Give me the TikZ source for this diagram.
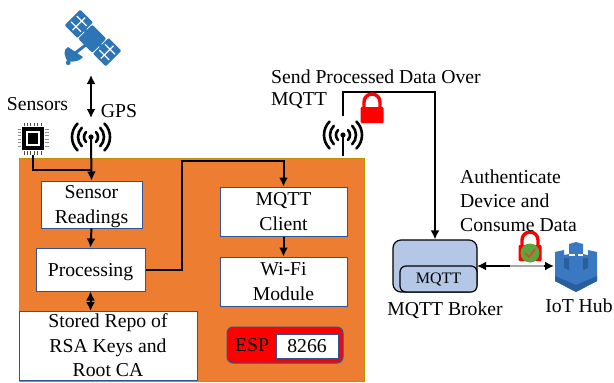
\documentclass[tikz,border=0pt]{standalone}
\usepackage{fontspec}
\setmainfont{Liberation Serif}
\usetikzlibrary{arrows.meta}
\definecolor{espfill}{HTML}{ED7D31}
\definecolor{espedge}{HTML}{BF9000}
\definecolor{boxedge}{HTML}{2F5597}
\definecolor{brokerfill}{HTML}{B4C7E7}
\definecolor{satblue}{HTML}{2E75B6}
\definecolor{hubblue}{HTML}{3B78C2}
\definecolor{hubdark}{HTML}{2A5F9E}
\definecolor{lockgreen}{HTML}{5BA63C}
\tikzset{
	>={Latex[length=9pt,width=9pt]},
	txt/.style={font=\fontsize{19.7}{24}\selectfont, align=left, inner sep=0pt},
	blockbox/.style={draw=boxedge, line width=1pt, fill=white, inner sep=0pt, align=center, text depth=0pt, font=\fontsize{19.7}{24.5}\selectfont},
	link/.style={draw=black, line width=2pt},
	pics/antennaicon/.style={code={
		\fill (0,0) circle (2.6);
		\foreach \r in {7,13,19} {
			\draw[line width=2.6pt, line cap=round] (45:\r) arc (45:-45:\r);
			\draw[line width=2.6pt, line cap=round] (135:\r) arc (135:225:\r);
		}
	}},
	pics/lockicon/.style={code={
		\draw[red, line width=3.4pt] (-8,0) -- (-8,-6) arc (180:360:8) -- (8,0);
		\fill[red, rounded corners=1pt] (-11.5,-1) rectangle (11.5,15);
	}}
}
\begin{document}
\begin{tikzpicture}[x=1pt, y=-1pt]
	\useasboundingbox (0,0) rectangle (614,383);

	% ESP board
	\filldraw[draw=espedge, fill=espfill, line width=1pt] (19,158) rectangle (364,381);

	% boxes on the board
	\node[blockbox, minimum width=101pt, minimum height=47pt] (readings) at (91.5,204.5) {Sensor\\Readings};
	\node[blockbox, minimum width=109pt, minimum height=43pt] (processing) at (90.5,269.5) {Processing};
	\node[blockbox, minimum width=178pt, minimum height=69pt] (repo) at (108,345.5) {Stored Repo of\\RSA Keys and\\Root CA};
	\node[blockbox, minimum width=127pt, minimum height=49pt] (client) at (283.5,211.5) {MQTT\\Client};
	\node[blockbox, minimum width=127pt, minimum height=49pt] (wifi) at (283.5,281.5) {Wi-Fi\\Module};
	\node[draw=boxedge, line width=1pt, fill=red, rounded corners=6pt, minimum width=116pt, minimum height=36pt] (esp) at (285,345) {};
	\node[blockbox, minimum width=62pt, minimum height=24pt] (chipno) at (307,346) {8266};
	\node[txt] (espname) at (252,345) {ESP};

	% satellite
	\begin{scope}[shift={(93,38)}, rotate=-45]
		\fill[satblue, rounded corners=1pt] (-29,-11) rectangle (-11,11);
		\fill[satblue, rounded corners=1pt] (11,-11) rectangle (29,11);
		\fill[satblue, rounded corners=2pt] (-10,-9) rectangle (10,11);
		\fill[satblue] (-12,-1.5) rectangle (12,1.5);
		\foreach \s in {-1,1} {
			\draw[white, line width=1.2pt] (\s*20,-9) -- (\s*20,9);
			\draw[white, line width=1.2pt] (\s*27,-4) -- (\s*13,-4);
			\draw[white, line width=1.2pt] (\s*27,4) -- (\s*13,4);
		}
		\fill[satblue] (-11.3,24) -- (6.4,20.5) .. controls (7,30) and (-2,33) .. (0,35) .. controls (-8,33) and (-13,30) .. cycle;
		\fill[satblue] (0,35) circle (2.4);
		\draw[satblue, line width=3pt] (-2,24) -- (0,8);
	\end{scope}

	% sensor chip
	\fill[black] (22,127) rectangle (44,150);
	\fill[white] (26,131) rectangle (40,146);
	\fill[black] (28,133) rectangle (38,144);
	\foreach \p in {0,...,5} {
		\draw[black!70, line width=1pt] (24+\p*3.4,123) -- (24+\p*3.4,126);
		\draw[black!70, line width=1pt] (24+\p*3.4,151) -- (24+\p*3.4,155);
		\draw[black!45, line width=1pt] (18,129+\p*3.4) -- (21,129+\p*3.4);
		\draw[black!45, line width=1pt] (45,129+\p*3.4) -- (49,129+\p*3.4);
	}

	% antennas
	\pic at (91,137) {antennaicon};
	\pic at (343,135) {antennaicon};
	\coordinate (gpsant) at (91,137);
	\coordinate (wifiant) at (343,135);
	\coordinate (satbottom) at (91,75);
	\coordinate (gpsarrow) at (91,118);
	\coordinate (chipfoot) at (33,155);
	\coordinate (wifitop) at (343,116);
	\coordinate (wifibase) at (343,156);
	\coordinate (repotop) at (90.5,311);
	\coordinate (brokerport) at (477,266);
	\coordinate (hubleft) at (554,266);

	% connectors
	\draw[link, <->] (satbottom) -- (gpsarrow);
	\draw[link, ->] (gpsant) -- (readings.north);
	\draw[link] (chipfoot) |- (91,170);
	\draw[link, ->] (readings.south) -- (processing.north);
	\draw[link, <->] (processing.south) -- (repotop);
	\draw[link, ->] (processing.east) -- (182,269.5) |- (283.5,161) -- (client.north);
	\draw[link, ->] (client.south) -- (wifi.north);
	\draw[line width=2pt] (wifiant) -- (wifibase);

	% broker
	\node[draw, line width=1.2pt, fill=brokerfill, rounded corners=8pt, minimum width=84pt, minimum height=52pt] (broker) at (435,266) {};
	\node[draw, line width=1.2pt, fill=brokerfill, rounded corners=6pt, minimum width=77pt, minimum height=26pt, inner sep=0pt, font=\fontsize{16}{18}\selectfont] (brokerin) at (438.5,279) {MQTT};
	\draw[link, ->] (wifitop) |- (435,92) -- (broker.north);

	% iot hub
	\fill[hubblue] (555,252) -- (564,250) -- (564,255) -- (569,254) -- (569,244) -- (576,242) -- (583,244) -- (583,254) -- (588,255) -- (588,250) -- (597,252) -- (597,281) -- (576,292) -- (555,281) -- cycle;
	\fill[hubdark] (555,276) -- (576,285) -- (597,276) -- (597,281) -- (576,292) -- (555,281) -- cycle;
	\fill[hubdark] (564,258) -- (569,258) -- (569,270) -- (564,268) -- cycle;
	\fill[hubdark] (583,258) -- (588,258) -- (588,268) -- (583,270) -- cycle;
	\fill[white] (569,254) rectangle (575,255.5);
	\fill[white] (578,254) rectangle (583,255.5);
	\draw[link, <->] (brokerport) -- (hubleft);
	\draw[gray!70, line width=2pt] (510,266) -- (544,266);

	% locks
	\pic at (372,108) {lockicon};
	\pic at (530,246) {lockicon};
	\fill[lockgreen] (530,253) circle (9.5);
	\draw[red!80!white, line width=1.6pt] (525,253) -- (529,257) -- (535,249);

	% labels
	\node[txt] (sensors) at (37.5,104) {Sensors};
	\node[txt] (gps) at (119,111) {GPS};
	\node[txt, anchor=west] (send) at (271,89) {Send Processed Data Over\\[-2pt]MQTT};
	\node[txt, anchor=west] (auth) at (460,200.5) {Authenticate\\Device and\\Consume Data};
	\node[txt] (brokername) at (445,310) {MQTT Broker};
	\node[txt] (hubname) at (579,306) {IoT Hub};
\end{tikzpicture}
\end{document}
